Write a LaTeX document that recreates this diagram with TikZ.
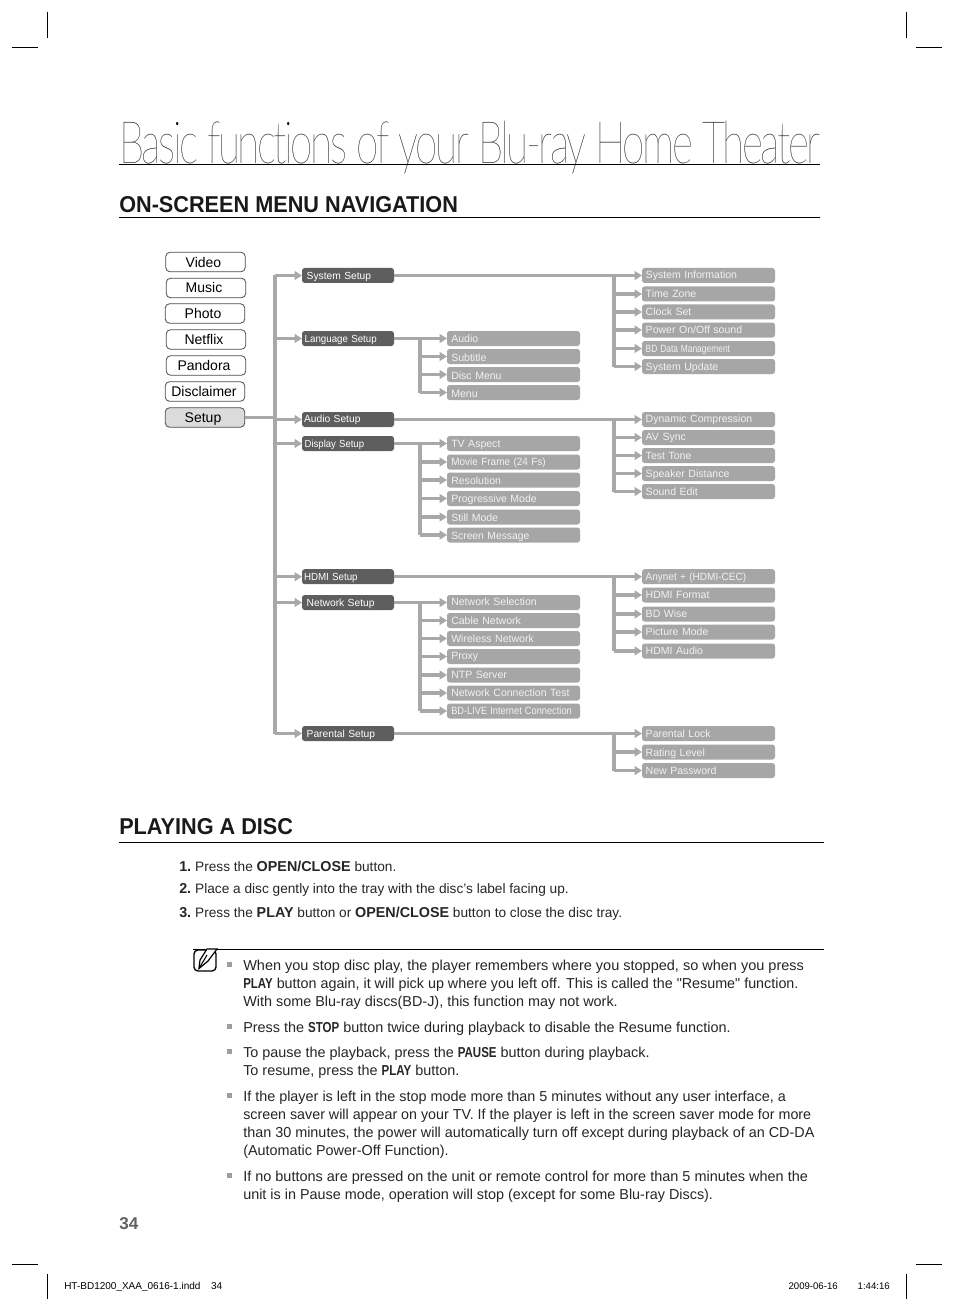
\documentclass[tikz,border=0pt]{standalone}
\usepackage{graphicx}
\usepackage{fontspec}
\setmainfont{Liberation Sans}
\newfontfamily\thinfont[Ligatures=NoCommon,LetterSpace=-6]{Lato Thin}
\usetikzlibrary{arrows.meta}
\definecolor{conn}{HTML}{A8A8A8}
\definecolor{lightbox}{HTML}{A6A6A6}
\definecolor{darkbox}{HTML}{5E5E5E}
\definecolor{bodyink}{HTML}{262626}
\newcommand{\nar}[1]{\scalebox{0.8}[1]{\bfseries #1}}
\newcommand{\bb}[1]{{\fontsize{10.75}{13.5}\selectfont\bfseries #1}}
\newcommand{\lab}[1]{\hspace*{#1pt}}
\newcommand{\sq}[2]{\scalebox{#1}[1]{#2}}
\newcommand{\btn}[1]{\hspace*{-3pt}#1}
\newcommand{\up}[1]{\raisebox{0.6pt}{#1}}
\newcommand{\dn}[1]{\raisebox{-0.6pt}{#1}}
\tikzset{
  menubtn/.style={draw=black!70,line width=0.6pt,fill=white,rounded corners=3pt,minimum width=59.5pt,minimum height=14.5pt,inner sep=0pt,outer sep=0pt,text height=7.9pt,text depth=0.5pt,font=\fontsize{10.5}{12}\selectfont,text=black},
  lvlone/.style={fill=darkbox,rounded corners=2pt,minimum width=69pt,minimum height=11.25pt,inner xsep=1pt,inner ysep=0pt,outer sep=0pt,text width=67pt,align=left,text height=6.35pt,text depth=0.65pt,font=\fontsize{7.7}{9}\selectfont,text=white},
  lvltwo/.style={fill=lightbox,rounded corners=2pt,minimum width=99.75pt,minimum height=11.25pt,inner xsep=2.8pt,inner ysep=0pt,outer sep=0pt,text width=94.15pt,align=left,text height=6.35pt,text depth=0.65pt,font=\fontsize{7.9}{9}\selectfont,text=white!95!black},
  lvlmid/.style={lvltwo,inner xsep=3.2pt,text width=93.35pt},
  line/.style={draw=conn,line width=2.4pt},
  arr/.style={line,-{Triangle[length=5.5pt,width=6.5pt]}},
  crop/.style={draw=black,line width=0.6pt},
  rulek/.style={draw=black,line width=0.7pt},
  para/.style={anchor=north west,inner sep=0pt,align=left,font=\fontsize{10.8}{13.5}\selectfont,text=bodyink},
  steptext/.style={para,font=\fontsize{10.25}{13.5}\selectfont},
  head/.style={anchor=base west,inner sep=0pt,font=\fontsize{17.2}{20}\selectfont\bfseries,text=black!90},
  bul/.style={fill=black!38,minimum size=4.2pt,inner sep=0pt},
}
\begin{document}
\begin{tikzpicture}[x=0.75pt,y=-0.75pt]
\useasboundingbox (0,0) rectangle (954,1312);
\fill[white] (0,0) rectangle (954,1312);
% crop marks
\foreach \a/\b/\c/\d in {47/12/47/38,12/47/38/47,906/12/906/38,916/47/942/47,12/1264/38/1264,47/1274/47/1299,916/1264/942/1264,906/1274/906/1299}
  \draw[crop] (\a,\b) -- (\c,\d);
% title
\node[anchor=base west,inner sep=0pt,text=black] (title) at (119,164) {\scalebox{0.692}[1]{\fontsize{44}{50}\thinfont Basic functions of your Blu-ray Home Theater}};
\draw[rulek] (119,164.5) -- (820,164.5);
\node[head] (h1) at (119,213) {\sq{0.945}{ON-SCREEN MENU NAVIGATION}};
\draw[rulek] (119,217.5) -- (820,217.5);
% left menu
\node[menubtn] (video) at (205.5,262) {\raisebox{-0.6pt}{\btn{Video}}};
\node[menubtn] (music) at (206,288) {\btn{Music}};
\node[menubtn] (photo) at (205,313.5) {\btn{Photo}};
\node[menubtn] (netflix) at (206,339.5) {\btn{Netflix}};
\node[menubtn] (pandora) at (206,365.5) {\btn{Pandora}};
\node[menubtn] (discl) at (205,391.5) {\hspace*{1.5pt}\btn{Disclaimer}};
\node[menubtn,fill=black!14] (setup) at (205,417.5) {\btn{Setup}};
% level one
\node[lvlone] (sys) at (348,275.5) {\lab{2.5}System Setup};
\node[lvlone] (lang) at (348,338.5) {\lab{1}\sq{0.95}{Language Setup}};
\node[lvlone] (aud) at (348,419.5) {\lab{0.5}\up{Audio Setup}};
\node[lvlone] (disp) at (348,443.5) {\lab{1}\sq{0.93}{Display Setup}};
\node[lvlone] (hdmi) at (348,576.7) {\lab{0.5}\sq{0.95}{HDMI Setup}};
\node[lvlone] (net) at (348,602.5) {\lab{2.5}Network Setup};
\node[lvlone] (par) at (348,733.5) {\lab{2.5}Parental Setup};
% level two: middle column
\node[lvlmid] (la) at (513.5,338.5) {Audio};
\node[lvlmid] (lb) at (513.5,356.5) {\dn{Subtitle}};
\node[lvlmid] (lc) at (513.5,374.5) {\dn{Disc Menu}};
\node[lvlmid] (ld) at (513.5,392.5) {\dn{Menu}};
\node[lvlmid] (da) at (513.5,443.5) {TV Aspect};
\node[lvlmid] (db) at (513.5,462) {\sq{0.95}{Movie Frame (24 Fs)}};
\node[lvlmid] (dc) at (513.5,480) {\dn{Resolution}};
\node[lvlmid] (dd) at (513.5,498.5) {Progressive Mode};
\node[lvlmid] (de) at (513.5,517) {\dn{Still Mode}};
\node[lvlmid] (df) at (513.5,535) {\dn{\sq{0.98}{Screen Message}}};
\node[lvlmid] (na) at (513.5,602.5) {\up{Network Selection}};
\node[lvlmid] (nb) at (513.5,620.5) {Cable Network};
\node[lvlmid] (nc) at (513.5,638.5) {Wireless Network};
\node[lvlmid] (nd) at (513.5,656.5) {\up{Proxy}};
\node[lvlmid] (ne) at (513.5,675) {NTP Server};
\node[lvlmid] (nf) at (513.5,693) {Network Connection Test};
\node[lvlmid] (ng) at (513.5,711) {\sq{0.88}{BD-LIVE Internet Connection}};
% level two: right column
\node[lvltwo] (sa) at (708.5,275.5) {\up{System Information}};
\node[lvltwo] (sb) at (708.5,294) {Time Zone};
\node[lvltwo] (sc) at (708.5,312) {Clock Set};
\node[lvltwo] (sd) at (708.5,330) {Power On/Off sound};
\node[lvltwo] (se) at (708.5,348.5) {\sq{0.8}{BD Data Management}};
\node[lvltwo] (sf) at (708.5,366.5) {System Update};
\node[lvltwo] (aa) at (708.5,419.5) {\up{Dynamic Compression}};
\node[lvltwo] (ab) at (708.5,437.5) {\up{AV Sync}};
\node[lvltwo] (ac) at (708.5,455.5) {Test Tone};
\node[lvltwo] (ad) at (708.5,473.5) {Speaker Distance};
\node[lvltwo] (ae) at (708.5,491.5) {Sound Edit};
\node[lvltwo] (ha) at (708.5,576.7) {\sq{0.95}{Anynet + (HDMI-CEC)}};
\node[lvltwo] (hb) at (708.5,595) {HDMI Format};
\node[lvltwo] (hc) at (708.5,614) {BD Wise};
\node[lvltwo] (hd) at (708.5,632) {Picture Mode};
\node[lvltwo] (he) at (708.5,651) {HDMI Audio};
\node[lvltwo] (pa) at (708.5,733.5) {Parental Lock};
\node[lvltwo] (pb) at (708.5,752) {\dn{Rating Level}};
\node[lvltwo] (pc) at (708.5,770.5) {New Password};
% connectors
\coordinate (trunk) at (275,0);
\coordinate (busm) at (420,0);
\coordinate (busr) at (614,0);
\draw[line] (trunk |- sys.west) -- (trunk |- par.west);
\draw[line] (setup.east) -- (trunk |- setup.east);
\foreach \n in {sys,lang,aud,disp,hdmi,net,par}
  \draw[arr] (trunk |- \n.west) -- (\n.west);
\foreach \s/\t/\l in {lang/la/ld,disp/da/df,net/na/ng}{
  \draw[arr] (\s.east) -- (\t.west);
  \draw[line] (busm |- \t.west) -- (busm |- \l.west);
}
\foreach \n in {lb,lc,ld,db,dc,dd,de,df,nb,nc,nd,ne,nf,ng}
  \draw[arr] (busm |- \n.west) -- (\n.west);
\foreach \s/\t/\l in {sys/sa/sf,aud/aa/ae,hdmi/ha/he,par/pa/pc}{
  \draw[arr] (\s.east) -- (\t.west);
  \draw[line] (busr |- \t.west) -- (busr |- \l.west);
}
\foreach \n in {sb,sc,sd,se,sf,ab,ac,ad,ae,hb,hc,hd,he,pb,pc}
  \draw[arr] (busr |- \n.west) -- (\n.west);
% playing a disc
\node[head] (h2) at (119,834) {\sq{0.945}{PLAYING A DISC}};
\draw[rulek] (119,842.5) -- (824,842.5);
\node[steptext] (s1) at (179,860.5) {\bb{1.}\hspace{3pt}Press the \bb{OPEN/CLOSE} button.};
\node[steptext] (s2) at (179,883.5) {\bb{2.}\hspace{3pt}Place a disc gently into the tray with the disc’s label facing up.};
\node[steptext] (s3) at (179,906.5) {\bb{3.}\hspace{3pt}Press the \bb{PLAY} button or \bb{OPEN/CLOSE} button to close the disc tray.};
% note
\draw[rulek] (193,949.5) -- (824,949.5);
\draw[draw=black,line width=1pt,rounded corners=3pt,fill=white] (194,950) rectangle (216,971);
\draw[draw=black,line width=0.9pt,fill=white] (199,968.5) -- (200,960) -- (207,949) -- (217,949) -- (208,961) -- cycle;
\draw[draw=black,line width=0.8pt] (199,968.5) -- (207,955);
\node[para] (p1) at (243,959.5) {\sq{1.007}{When you stop disc play, the player remembers where you stopped, so when you press}\\ \sq{0.995}{\nar{PLAY} button again, it will pick up where you left off. This is called the \textquotedbl Resume\textquotedbl\ function.}\\ With some Blu-ray discs(BD-J), this function may not work.};
\node[para] (p2) at (243,1021.5) {Press the \nar{STOP} button twice during playback to disable the Resume function.};
\node[para] (p3) at (243,1046.5) {To pause the playback, press the \nar{PAUSE} button during playback.\\ To resume, press the \nar{PLAY} button.};
\node[para] (p4) at (243,1090.5) {If the player is left in the stop mode more than 5 minutes without any user interface, a\\ \sq{0.992}{screen saver will appear on your TV. If the player is left in the screen saver mode for more}\\ than 30 minutes, the power will automatically turn off except during playback of an CD-DA\\ (Automatic Power-Off Function).};
\node[para] (p5) at (243,1170.5) {\sq{1.005}{If no buttons are pressed on the unit or remote control for more than 5 minutes when the}\\ unit is in Pause mode, operation will stop (except for some Blu-ray Discs).};
\foreach \n/\y in {b1/964.5,b2/1026.5,b3/1051.5,b4/1095.5,b5/1175.5}
  \node[bul] (\n) at (229.5,\y) {};
% footer
\node[anchor=base west,inner sep=0pt,font=\fontsize{12.8}{15}\selectfont\bfseries,text=black!62] (pg) at (119,1229.5) {34};
\node[anchor=base west,inner sep=0pt,font=\fontsize{7.5}{8}\selectfont] (f1) at (64,1289) {HT-BD1200\_XAA\_0616-1.indd\hspace{8pt}34};
\node[anchor=base east,inner sep=0pt,font=\fontsize{7.2}{8}\selectfont] (f2) at (890,1289) {2009-06-16\hspace{15pt}1:44:16};
\end{tikzpicture}
\end{document}
